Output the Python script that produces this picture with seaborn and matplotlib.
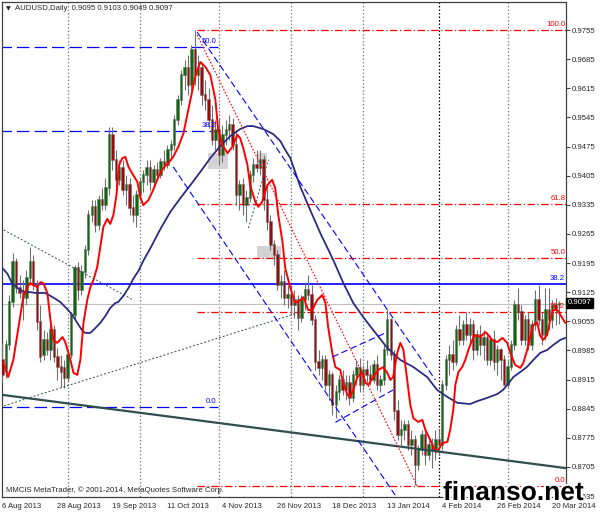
import numpy as np
import pandas as pd
import matplotlib
matplotlib.use("Agg")
import matplotlib.pyplot as plt
import seaborn as sns
from matplotlib import patheffects as pe

sns.set_style("white")
plt.rcParams['font.family'] = ['Liberation Sans', 'DejaVu Sans']

# ---------------- data ----------------
date_labels = ["6 Aug 2013", "28 Aug 2013", "19 Sep 2013", "11 Oct 2013", "4 Nov 2013",
               "26 Nov 2013", "18 Dec 2013", "13 Jan 2014", "4 Feb 2014", "26 Feb 2014", "20 Mar 2014"]
date_bars = [0, 16, 32, 48, 64, 80, 96, 112, 128, 144, 160]
month_bars = [19, 40, 63, 84, 105, 127, 147]
price_ticks = [0.9755, 0.9685, 0.9615, 0.9545, 0.9475, 0.9405, 0.9335, 0.9265, 0.9195,
               0.9125, 0.9055, 0.8985, 0.8915, 0.8845, 0.8775, 0.8705, 0.8635]

opens = [0.8962, 0.8933, 0.8998, 0.9101, 0.9197, 0.9135, 0.9123, 0.9111, 0.9159, 0.9197,
         0.9142, 0.9053, 0.8974, 0.9010, 0.8986, 0.9034, 0.8969, 0.8945, 0.8943, 0.8919,
         0.8974, 0.9070, 0.9183, 0.9130, 0.9173, 0.9226, 0.9310, 0.9330, 0.9286, 0.9346,
         0.9334, 0.9375, 0.9503, 0.9443, 0.9395, 0.9423, 0.9371, 0.9382, 0.9327, 0.9310,
         0.9358, 0.9390, 0.9407, 0.9423, 0.9390, 0.9419, 0.9407, 0.9438, 0.9431, 0.9467,
         0.9479, 0.9539, 0.9587, 0.9647, 0.9664, 0.9623, 0.9707, 0.9647, 0.9664, 0.9599,
         0.9587, 0.9539, 0.9491, 0.9515, 0.9455, 0.9503, 0.9515, 0.9527, 0.9479, 0.9358,
         0.9382, 0.9334, 0.9351, 0.9407, 0.9431, 0.9423, 0.9443, 0.9346, 0.9294, 0.9238,
         0.9214, 0.9142, 0.9149, 0.9111, 0.9118, 0.9094, 0.9106, 0.9063, 0.9106, 0.9130,
         0.9118, 0.9058, 0.8957, 0.8943, 0.8962, 0.8902, 0.8926, 0.8854, 0.8885, 0.8914,
         0.8890, 0.8907, 0.8871, 0.8926, 0.8943, 0.8902, 0.8938, 0.8926, 0.8914, 0.8950,
         0.8902, 0.8914, 0.8986, 0.9058, 0.8974, 0.8840, 0.8782, 0.8794, 0.8806, 0.8758,
         0.8770, 0.8710, 0.8746, 0.8782, 0.8734, 0.8758, 0.8746, 0.8770, 0.8758, 0.8902,
         0.8962, 0.8974, 0.8957, 0.9034, 0.9010, 0.9046, 0.9022, 0.9046, 0.8986, 0.9022,
         0.8998, 0.9015, 0.8962, 0.9010, 0.8957, 0.8986, 0.8962, 0.8902, 0.8945, 0.8998,
         0.9094, 0.9077, 0.9010, 0.9058, 0.8998, 0.9046, 0.9106, 0.9058, 0.9022, 0.9082,
         0.9058, 0.9094, 0.9095]
highs = [0.9003, 0.9010, 0.9118, 0.9219, 0.9207, 0.9166, 0.9154, 0.9178, 0.9233, 0.9214,
         0.9154, 0.9094, 0.9034, 0.9029, 0.9046, 0.9046, 0.8991, 0.8974, 0.8962, 0.8986,
         0.9077, 0.9190, 0.9197, 0.9190, 0.9238, 0.9322, 0.9346, 0.9346, 0.9358, 0.9375,
         0.9399, 0.9522, 0.9522, 0.9467, 0.9443, 0.9443, 0.9407, 0.9399, 0.9358, 0.9371,
         0.9399, 0.9419, 0.9443, 0.9443, 0.9431, 0.9438, 0.9447, 0.9467, 0.9479, 0.9491,
         0.9551, 0.9599, 0.9659, 0.9683, 0.9695, 0.9719, 0.9755, 0.9695, 0.9678, 0.9635,
         0.9616, 0.9575, 0.9539, 0.9543, 0.9527, 0.9539, 0.9551, 0.9543, 0.9515, 0.9395,
         0.9399, 0.9371, 0.9419, 0.9447, 0.9467, 0.9467, 0.9455, 0.9382, 0.9310, 0.9250,
         0.9226, 0.9166, 0.9178, 0.9142, 0.9142, 0.9130, 0.9118, 0.9118, 0.9147, 0.9166,
         0.9142, 0.9070, 0.8986, 0.8974, 0.8974, 0.8938, 0.8933, 0.8902, 0.8926, 0.8938,
         0.8926, 0.8926, 0.8938, 0.8962, 0.8967, 0.8950, 0.8962, 0.8950, 0.8962, 0.8974,
         0.8926, 0.8998, 0.9082, 0.9063, 0.8986, 0.8866, 0.8818, 0.8818, 0.8818, 0.8794,
         0.8782, 0.8758, 0.8794, 0.8798, 0.8770, 0.8774, 0.8794, 0.8794, 0.8914, 0.8974,
         0.8998, 0.9010, 0.9046, 0.9070, 0.9058, 0.9077, 0.9063, 0.9058, 0.9034, 0.9046,
         0.9034, 0.9029, 0.9022, 0.9034, 0.8998, 0.8991, 0.8974, 0.8962, 0.9010, 0.9106,
         0.9135, 0.9094, 0.9070, 0.9077, 0.9058, 0.9130, 0.9142, 0.9077, 0.9135, 0.9135,
         0.9106, 0.9111, 0.9103]
lows = [0.8907, 0.8919, 0.8986, 0.9089, 0.9123, 0.9111, 0.9058, 0.9094, 0.9142, 0.9130,
        0.9034, 0.8957, 0.8962, 0.8974, 0.8962, 0.8957, 0.8914, 0.8897, 0.8895, 0.8909,
        0.8967, 0.9058, 0.9106, 0.9118, 0.9159, 0.9214, 0.9294, 0.9270, 0.9274, 0.9322,
        0.9322, 0.9358, 0.9419, 0.9371, 0.9382, 0.9358, 0.9334, 0.9310, 0.9294, 0.9282,
        0.9346, 0.9366, 0.9382, 0.9371, 0.9375, 0.9395, 0.9399, 0.9419, 0.9423, 0.9443,
        0.9467, 0.9527, 0.9575, 0.9611, 0.9599, 0.9611, 0.9623, 0.9611, 0.9575, 0.9563,
        0.9520, 0.9479, 0.9467, 0.9431, 0.9438, 0.9479, 0.9491, 0.9467, 0.9334, 0.9322,
        0.9310, 0.9294, 0.9342, 0.9390, 0.9414, 0.9407, 0.9322, 0.9274, 0.9226, 0.9190,
        0.9130, 0.9111, 0.9094, 0.9087, 0.9070, 0.9063, 0.9034, 0.9053, 0.9082, 0.9106,
        0.9046, 0.8938, 0.8926, 0.8914, 0.8890, 0.8866, 0.8830, 0.8822, 0.8866, 0.8878,
        0.8866, 0.8854, 0.8861, 0.8902, 0.8885, 0.8890, 0.8909, 0.8902, 0.8907, 0.8890,
        0.8885, 0.8902, 0.8974, 0.8962, 0.8818, 0.8770, 0.8758, 0.8770, 0.8746, 0.8734,
        0.8661, 0.8698, 0.8734, 0.8710, 0.8722, 0.8702, 0.8722, 0.8734, 0.8746, 0.8890,
        0.8926, 0.8938, 0.8950, 0.8998, 0.8998, 0.9010, 0.8998, 0.8962, 0.8974, 0.8974,
        0.8962, 0.8950, 0.8950, 0.8938, 0.8926, 0.8914, 0.8907, 0.8895, 0.8938, 0.8986,
        0.9058, 0.8998, 0.8998, 0.8986, 0.8986, 0.9034, 0.9046, 0.8998, 0.9010, 0.9034,
        0.9039, 0.9046, 0.9049]
closes = [0.8926, 0.8998, 0.9101, 0.9197, 0.9135, 0.9123, 0.9111, 0.9159, 0.9197, 0.9142,
          0.9053, 0.8969, 0.9010, 0.8986, 0.9034, 0.8969, 0.8945, 0.8933, 0.8919, 0.8974,
          0.9070, 0.9183, 0.9130, 0.9173, 0.9226, 0.9310, 0.9330, 0.9286, 0.9346, 0.9334,
          0.9375, 0.9503, 0.9443, 0.9395, 0.9423, 0.9371, 0.9382, 0.9327, 0.9310, 0.9358,
          0.9390, 0.9407, 0.9423, 0.9390, 0.9419, 0.9407, 0.9438, 0.9431, 0.9467, 0.9479,
          0.9539, 0.9587, 0.9647, 0.9664, 0.9623, 0.9707, 0.9647, 0.9664, 0.9599, 0.9587,
          0.9539, 0.9491, 0.9515, 0.9455, 0.9503, 0.9515, 0.9527, 0.9479, 0.9358, 0.9382,
          0.9334, 0.9351, 0.9407, 0.9431, 0.9423, 0.9443, 0.9346, 0.9294, 0.9238, 0.9214,
          0.9142, 0.9149, 0.9111, 0.9118, 0.9094, 0.9106, 0.9063, 0.9106, 0.9130, 0.9118,
          0.9058, 0.8957, 0.8943, 0.8962, 0.8902, 0.8926, 0.8854, 0.8885, 0.8914, 0.8890,
          0.8907, 0.8871, 0.8926, 0.8943, 0.8902, 0.8938, 0.8926, 0.8914, 0.8950, 0.8902,
          0.8914, 0.8986, 0.9058, 0.8974, 0.8840, 0.8782, 0.8794, 0.8806, 0.8758, 0.8770,
          0.8710, 0.8746, 0.8782, 0.8734, 0.8758, 0.8746, 0.8770, 0.8758, 0.8902, 0.8962,
          0.8974, 0.8957, 0.9034, 0.9010, 0.9046, 0.9022, 0.9046, 0.8986, 0.9022, 0.8998,
          0.9015, 0.8962, 0.9010, 0.8957, 0.8986, 0.8962, 0.8902, 0.8945, 0.8998, 0.9094,
          0.9077, 0.9010, 0.9058, 0.8998, 0.9046, 0.9106, 0.9058, 0.9022, 0.9082, 0.9058,
          0.9094, 0.9082, 0.9097]

fast_x = [0.3,1.7,3.2,4.7,6.1,7.3,8.1,9.0,10.2,11.1,11.9,13.1,14.0,14.8,16.0,17.5,18.3,19.8,20.7,21.8,22.7,23.6,24.7,25.6,26.5,27.6,28.5,29.4,30.5,31.4,32.3,33.2,34.0,34.9,35.8,36.7,38.1,39.3,40.1,41.0,42.5,43.9,45.4,46.8,48.3,49.7,51.2,52.7,53.5,54.7,56.1,57.6,59.1,60.5,62.0,62.8,64.0,65.5,66.9,68.4,69.2,70.1,71.3,72.1,73.6,74.5,75.6,77.1,78.5,79.4,80.3,81.5,82.3,83.8,85.2,86.7,87.6,89.0,90.2,91.6,93.1,94.0,94.8,96.0,96.9,98.3,99.2,100.4,101.2,102.1,103.3,104.7,105.6,106.5,107.9,109.4,110.8,112.0,112.9,113.7,114.9,115.8,116.7,117.8,118.7,119.6,121.0,122.2,123.1,124.5,125.4,126.5,128.0,129.5,130.3,131.2,131.8,132.7,133.8,134.7,135.6,136.7,137.6,139.1,140.5,141.4,142.5,144.0,145.5,146.9,147.8,149.2,150.7,151.6,152.7,153.6,154.5,155.6,156.4,157.3,158.5,159.4,160.3,161.5,162.9,163.8]
fast_ma = [0.8955,0.8921,0.8962,0.9041,0.9113,0.9137,0.9147,0.9142,0.9137,0.9149,0.9147,0.9123,0.9058,0.9010,0.9003,0.9017,0.9005,0.8962,0.8931,0.8926,0.8962,0.9051,0.9106,0.9137,0.9154,0.9185,0.9233,0.9282,0.9301,0.9289,0.9310,0.9358,0.9431,0.9447,0.9450,0.9426,0.9406,0.9390,0.9354,0.9334,0.9346,0.9371,0.9402,0.9423,0.9435,0.9450,0.9474,0.9507,0.9539,0.9587,0.9642,0.9678,0.9666,0.9647,0.9587,0.9515,0.9479,0.9459,0.9474,0.9503,0.9495,0.9471,0.9431,0.9382,0.9342,0.9330,0.9342,0.9382,0.9395,0.9375,0.9310,0.9246,0.9183,0.9135,0.9099,0.9106,0.9113,0.9082,0.9082,0.9106,0.9118,0.9099,0.9041,0.8979,0.8945,0.8938,0.8907,0.8878,0.8873,0.8890,0.8921,0.8931,0.8907,0.8902,0.8921,0.8938,0.8945,0.8931,0.8914,0.8921,0.8979,0.9003,0.8986,0.8914,0.8854,0.8822,0.8813,0.8818,0.8794,0.8770,0.8753,0.8741,0.8762,0.8765,0.8794,0.8842,0.8902,0.8933,0.8945,0.8962,0.8986,0.9010,0.9022,0.9017,0.9029,0.9022,0.9010,0.9005,0.9015,0.9003,0.8979,0.8950,0.8943,0.8955,0.8986,0.9017,0.9046,0.9053,0.9022,0.9010,0.9022,0.9058,0.9082,0.9082,0.9063,0.9051]

slow_x = [0.0,1.5,2.9,4.4,5.2,6.7,8.1,9.6,11.1,12.5,14.0,15.4,16.9,18.9,20.4,21.8,23.3,24.1,25.6,27.1,28.5,30.0,31.4,32.9,33.7,35.2,36.7,38.1,39.6,41.0,43.1,46.0,48.9,51.8,54.7,57.6,60.5,63.4,66.3,69.2,71.3,73.0,75.9,78.8,80.9,82.3,83.8,86.7,89.6,92.5,96.3,99.2,102.1,105.0,107.9,112.0,115.8,119.6,123.6,126.5,129.5,132.4,136.1,138.2,141.1,144.0,145.7,146.9,148.7,150.7,152.6,154.5,156.5,158.5,160.3,162.3,163.8]
slow_ma = [0.9183,0.9169,0.9145,0.9135,0.9130,0.9125,0.9125,0.9123,0.9123,0.9123,0.9116,0.9109,0.9101,0.9084,0.9070,0.9051,0.9032,0.9027,0.9027,0.9039,0.9051,0.9068,0.9087,0.9099,0.9101,0.9116,0.9135,0.9157,0.9176,0.9200,0.9231,0.9277,0.9318,0.9351,0.9382,0.9414,0.9447,0.9476,0.9500,0.9517,0.9524,0.9524,0.9517,0.9505,0.9488,0.9467,0.9447,0.9378,0.9322,0.9267,0.9202,0.9147,0.9099,0.9065,0.9034,0.8991,0.8962,0.8945,0.8921,0.8890,0.8873,0.8859,0.8856,0.8863,0.8871,0.8880,0.8890,0.8902,0.8921,0.8933,0.8945,0.8962,0.8979,0.8986,0.8998,0.9010,0.9015]

red_fib_levels = [0.9755, 0.9337, 0.9208, 0.9078, 0.8660]
red_fib_names = ["100.0", "61.8", "50.0", "38.2", "0.0"]
red_fib_start = 56.5
blue_fib_levels = [0.9714, 0.9512, 0.8849]
blue_fib_names = ["50.0", "38.2", "0.0"]
blue_fib_end = 62.8
blue_level = 0.9145
bid_price = 0.9097

main_trend = (0.0, 0.8878, 164.0, 0.8702)
dotted_lines = [(-0.6, 0.9279, 38.1, 0.9106), (-0.6, 0.8849, 86.7, 0.9077), (71.6, 0.9279, 77.4, 0.9443)]
blue_channel = [(56.7, 0.9750, 126.0, 0.8914), (49.7, 0.9426, 114.3, 0.8637),
                (96.0, 0.8969, 112.0, 0.9029), (96.9, 0.8812, 113.7, 0.8890)]
red_dotted = [(56.7, 0.9743, 120.7, 0.8659)]
gray_boxes = [(59.9, 65.7, 0.9421, 0.9459), (74.2, 77.1, 0.9435, 0.9459), (74.2, 81.2, 0.9205, 0.9236)]

# ---------------- figure ----------------
W, H = 600, 514
fig = plt.figure(figsize=(W / 100, H / 100), dpi=100)
ax = fig.add_axes([2 / W, 1 - 497 / H, 564 / W, 495 / H])
ax.set_xlim(-0.1, 164.0)
ax.set_ylim(0.86326, 0.98223)
FS = 5.6

for b in month_bars:
    col = 'black' if b == 127 else '#808080'
    ax.axvline(b, color=col, lw=0.9, ls=(0, (1.2, 1.6)), zorder=1)

for x0, x1, y0, y1 in gray_boxes:
    ax.add_patch(plt.Rectangle((x0, y0), x1 - x0, y1 - y0, color='#d4d4d4', lw=0, zorder=1.5))

ax.axhline(bid_price, color='#c0c0c0', lw=0.8, zorder=1.6)
ax.axhline(blue_level, color='#0000ff', lw=1.2, zorder=2)
ax.text(163.8, blue_level + 0.0004, "38.2", color='#0000ff', fontsize=FS, ha='right', va='bottom', zorder=6)

df = pd.DataFrame({'o': opens, 'h': highs, 'l': lows, 'c': closes})
df['i'] = np.arange(len(df))
bull = df['c'] >= df['o']
ax.vlines(df['i'], df['l'], df['h'], color='#707070', lw=0.8, zorder=3)
ax.bar(df['i'][bull], (df['c'] - df['o'])[bull] + 0.0002, bottom=df['o'][bull], width=0.7,
       color='#0b6b0b', edgecolor='#707070', linewidth=0.4, zorder=3.5)
ax.bar(df['i'][~bull], (df['o'] - df['c'])[~bull] + 0.0002, bottom=df['c'][~bull], width=0.7,
       color='#9b0a0a', edgecolor='#707070', linewidth=0.4, zorder=3.5)

sns.lineplot(x=slow_x, y=slow_ma, ax=ax, color='#2b2b80', lw=1.3, zorder=4, sort=False)
sns.lineplot(x=fast_x, y=fast_ma, ax=ax, color='#ff0000', lw=1.4, zorder=4.5, sort=False)

for lev, name in zip(red_fib_levels, red_fib_names):
    ax.hlines(lev, red_fib_start, 164.5, color='#ff0000', lw=0.9, ls=(0, (6, 2, 1, 2)), zorder=2.5)
    ax.text(163.8, lev + 0.0004, name, color='#ff0000', fontsize=FS, ha='right', va='bottom', zorder=6)

for lev, name in zip(blue_fib_levels, blue_fib_names):
    ax.hlines(lev, -1, blue_fib_end, color='#0000ff', lw=0.9, ls=(0, (10, 4)), zorder=2.5)
    ax.text(blue_fib_end - 0.5, lev + 0.0004, name, color='#0000ff', fontsize=FS, ha='right', va='bottom', zorder=6)

x0, y0, x1, y1 = main_trend
slope = (y1 - y0) / (x1 - x0)
ax.plot([x0 - 1, x1 + 1], [y0 - slope, y1 + slope], color='#2f4f4f', lw=1.6, zorder=5)
for x0, y0, x1, y1 in dotted_lines:
    ax.plot([x0, x1], [y0, y1], color='#2f4f4f', lw=0.7, ls=(0, (2, 2)), zorder=5)
for x0, y0, x1, y1 in blue_channel:
    ax.plot([x0, x1], [y0, y1], color='#0000ff', lw=0.8, ls=(0, (6, 3)), zorder=5)
for x0, y0, x1, y1 in red_dotted:
    ax.plot([x0, x1], [y0, y1], color='#ff0000', lw=0.8, ls=(0, (1.5, 1.5)), zorder=5)

for s in ['left', 'top', 'bottom', 'right']:
    ax.spines[s].set_visible(True)
    ax.spines[s].set_color('#404040')
    ax.spines[s].set_linewidth(0.9)
ax.yaxis.tick_right()
ax.set_yticks(price_ticks)
ax.set_yticklabels([f"{p:.4f}" for p in price_ticks], fontsize=FS)
ax.set_xticks(date_bars)
ax.set_xticklabels(date_labels, fontsize=FS, ha='left')
ax.tick_params(axis='both', length=3, width=0.8, color='#404040', pad=1.5, direction='out')
ax.set_xlabel('')
ax.set_ylabel('')

fig.text(6 / W, 1 - 9 / H, "\u25BC", fontsize=4.5, va='center', ha='left', family=['DejaVu Sans'])
fig.text(15 / W, 1 - 9 / H, "AUDUSD,Daily  0.9095 0.9103 0.9049 0.9097", fontsize=FS, va='center', ha='left')
fig.text(6 / W, 1 - 490 / H, "MMCIS MetaTrader, \u00A9 2001-2014, MetaQuotes Software Corp.", fontsize=FS,
         va='center', ha='left')
fig.text(568 / W, 1 - 303 / H, "0.9097", fontsize=FS, va='center', ha='left', color='white',
         bbox=dict(facecolor='black', edgecolor='black', pad=1.2))
fig.text(443 / W, 1 - 500 / H, "finanso.net", fontsize=19, fontweight='bold', color='black',
         ha='left', va='baseline', path_effects=[pe.withStroke(linewidth=3, foreground='white')])

fig.savefig("out.png", dpi=100)
